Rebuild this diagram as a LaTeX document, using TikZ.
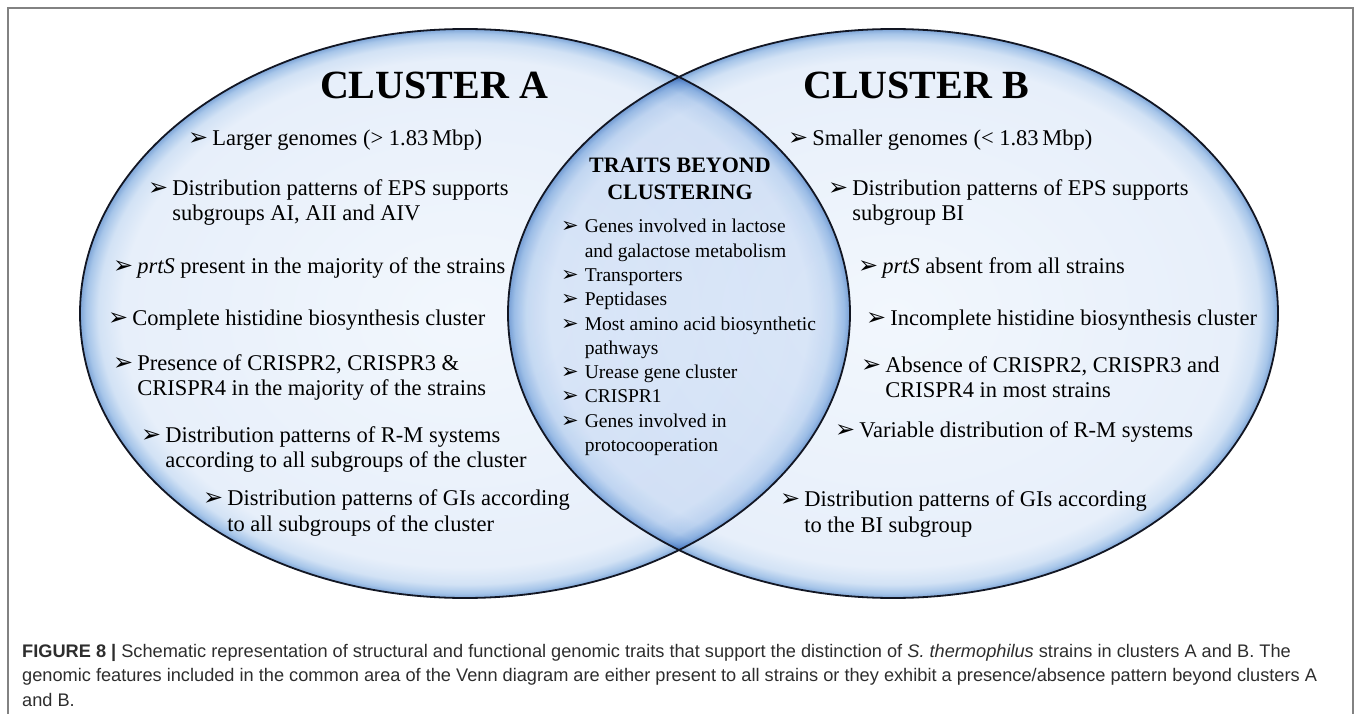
\documentclass[tikz,border=0pt]{standalone}
\usepackage{fontspec}
\setmainfont{Liberation Serif}
\newfontfamily\capfont{Liberation Sans}
\newfontfamily\dingfont{DejaVu Sans}
\usepackage{tikz}
\usetikzlibrary{shapes,arrows,positioning,calc}

\definecolor{glassin}{RGB}{242,247,253}
\definecolor{glassout}{RGB}{231,239,250}
\definecolor{glassmid}{RGB}{210,226,245}
\definecolor{glassedge}{RGB}{166,197,233}
\definecolor{glassrim}{RGB}{126,165,215}
\definecolor{rimdark}{RGB}{18,22,35}
\definecolor{framegray}{RGB}{130,130,130}
\definecolor{captext}{RGB}{45,45,45}

\pgfdeclareradialshading{glass}{\pgfpoint{0bp}{0bp}}{color(0bp)=(glassin); color(22.3bp)=(glassout); color(23.8bp)=(glassmid); color(24.6bp)=(glassedge); color(25bp)=(glassrim); color(50bp)=(glassrim)}

\newcommand{\bl}[2][24]{{\dingfont\fontsize{#1}{#1}\selectfont\smash{➢}}\hspace{#2}}
\newcommand{\ind}[2][24]{\phantom{\bl[#1]{#2}}}

\tikzset{
  venn/.style={ellipse, minimum width=770pt, minimum height=569pt, inner sep=0pt, shading=glass},
  rim/.style={draw=rimdark, line width=1.8pt},
  head/.style={font=\bfseries\fontsize{40}{44}\selectfont, inner sep=0pt},
  trait/.style={anchor=west, align=left, inner sep=0pt, font=\fontsize{22.5}{25.5}\selectfont},
  common/.style={anchor=west, align=left, inner sep=0pt, font=\fontsize{19.5}{24.3}\selectfont},
}

\begin{document}
\begin{tikzpicture}[x=1pt,y=-1pt]
  \useasboundingbox (0,0) rectangle (1358,714);
  \draw[framegray, line width=1.3pt] (8,714) -- (8,8) -- (1353,8) -- (1353,714);

  % the two clusters
  \node[venn] (clA) at (465,313.5) {};
  \begin{scope}[blend mode=multiply]
    \node[venn] (clB) at (893,313.5) {};
  \end{scope}
  \draw[rim] (clA.center) ellipse [x radius=385pt, y radius=284.5pt];
  \draw[rim] (clB.center) ellipse [x radius=385pt, y radius=284.5pt];

  \node[head] (hA) at (434,85) {CLUSTER A};
  \node[head] (hB) at (916,85) {CLUSTER B};

  % cluster A
  \node[trait] (a1) at (188,140) {\bl{4pt}Larger genomes (> 1.83\,Mbp)};
  \node[trait] (a2) at (148,202.5) {\bl{4pt}Distribution patterns of EPS supports\\\ind{4pt}subgroups AI, AII and AIV};
  \node[trait] (a3) at (113,268) {\bl{4pt}\textit{prtS} present in the majority of the strains};
  \node[trait] (a4) at (108,320) {\bl{4pt}Complete histidine biosynthesis cluster};
  \node[trait] (a5) at (113,377.5) {\bl{4pt}Presence of CRISPR2, CRISPR3 \&\\\ind{4pt}CRISPR4 in the majority of the strains};
  \node[trait] (a6) at (141,449.5) {\bl{4pt}Distribution patterns of R-M systems\\\ind{4pt}according to all subgroups of the cluster};
  \node[trait] (a7) at (203,513) {\bl{4pt}Distribution patterns of GIs according\\\ind{4pt}to all subgroups of the cluster};

  % cluster B
  \node[trait] (b1) at (788,140) {\bl{4pt}Smaller genomes (< 1.83\,Mbp)};
  \node[trait] (b2) at (828,202.5) {\bl{4pt}Distribution patterns of EPS supports\\\ind{4pt}subgroup BI};
  \node[trait] (b3) at (858,268) {\bl{4pt}\textit{prtS} absent from all strains};
  \node[trait] (b4) at (866,320) {\bl{4pt}Incomplete histidine biosynthesis cluster};
  \node[trait] (b5) at (861,377) {\bl{4pt}Absence of CRISPR2, CRISPR3 and\\\ind{4pt}CRISPR4 in most strains};
  \node[trait] (b6) at (835,432) {\bl{4pt}Variable distribution of R-M systems};
  \node[trait] (b7) at (780,514) {\bl{4pt}Distribution patterns of GIs according\\\ind{4pt}to the BI subgroup};

  % common area
  \node[font=\bfseries\fontsize{22}{27}\selectfont, align=center, inner sep=0pt] (tc) at (680,178.5) {TRAITS BEYOND\\CLUSTERING};
  \node[common] (cm) at (561,337.5) {\bl[21]{6pt}Genes involved in lactose\\\ind[21]{6pt}and galactose metabolism\\
    \bl[21]{6pt}Transporters\\\bl[21]{6pt}Peptidases\\\bl[21]{6pt}Most amino acid biosynthetic\\\ind[21]{6pt}pathways\\
    \bl[21]{6pt}Urease gene cluster\\\bl[21]{6pt}CRISPR1\\\bl[21]{6pt}Genes involved in\\\ind[21]{6pt}protocooperation};

  \node[anchor=north west, align=left, inner sep=0pt, text=captext, font=\capfont\fontsize{18.2}{24.5}\selectfont] (cap) at (22,644)
    {\textbf{FIGURE 8 |} Schematic representation of structural and functional genomic traits that support the distinction of \textit{S. thermophilus} strains in clusters A and B. The\\
     genomic features included in the common area of the Venn diagram are either present to all strains or they exhibit a presence/absence pattern beyond clusters A\\
     and B.};
\end{tikzpicture}
\end{document}
